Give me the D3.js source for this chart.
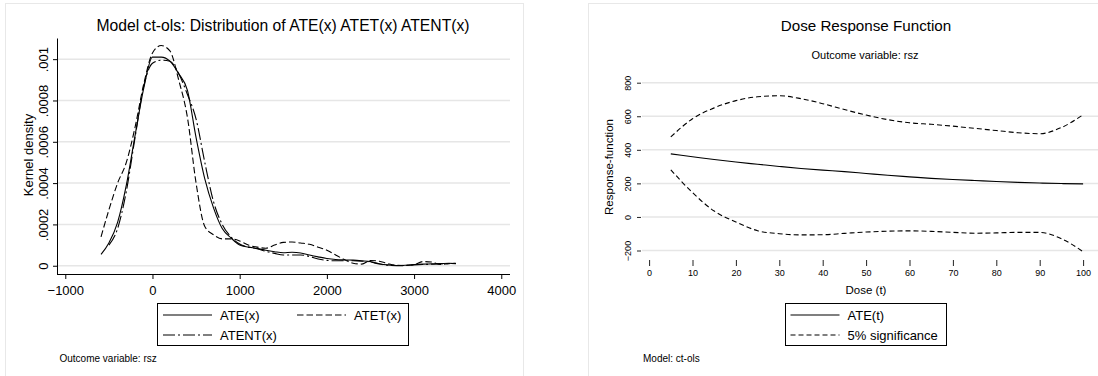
<!DOCTYPE html>
<html>
<head>
<meta charset="utf-8">
<script src="https://cdn.jsdelivr.net/npm/d3@7"></script>
<style>
  body { margin: 0; background: #fff; }
  svg text { font-family: "Liberation Sans", Arial, sans-serif; fill: #000; }
</style>
</head>
<body>
<svg id="chart" width="1098" height="376"></svg>
<script>
// Left panel: kernel densities
const kdX = [-590, -500, -400, -300, -200, -100, 0, 100, 200, 300, 400, 500, 600, 700, 800, 900, 1000,
  1100, 1200, 1300, 1400, 1500, 1600, 1700, 1800, 1900, 2000, 2100, 2200, 2300, 2400, 2500, 2600,
  2700, 2800, 2900, 3000, 3100, 3200, 3300, 3400, 3480];
const ateX = [0.000055, 0.00011, 0.00021, 0.00039, 0.00063, 0.00086, 0.00101, 0.00101, 0.00099, 0.00093,
  0.00085, 0.00062, 0.00042, 0.00028, 0.00018, 0.000135, 0.0001, 0.00009, 0.000084, 0.000075, 0.000068,
  0.000063, 0.000065, 0.000062, 0.000052, 0.000043, 0.000035, 0.00003, 0.000028, 0.000027, 0.000024,
  0.00002, 0.00001, 0.000004, 0.000001, 0.000002, 0.000006, 0.000008, 0.000009, 0.00001, 0.000012, 0.000011];
const atetX = [0.00014, 0.00027, 0.0004, 0.0005, 0.00067, 0.00088, 0.00103, 0.001066, 0.00104, 0.0009,
  0.00072, 0.0004, 0.00019, 0.00015, 0.00013, 0.00013, 0.00012, 0.0001, 0.00009, 0.000085, 0.0001,
  0.000113, 0.000115, 0.00011, 0.000104, 0.00009, 0.000075, 0.000052, 0.00003, 0.000012, 0.000008,
  0.000025, 0.000022, 0.00001, 0.000002, 0.000001, 0.000005, 0.00002, 0.000018, 0.000006, 0.00001, 0.000012];
const atentX = [null, 0.0001, 0.00018, 0.00036, 0.00062, 0.00087, 0.00098, 0.000995, 0.00099, 0.00093,
  0.00083, 0.00071, 0.0005, 0.00031, 0.0002, 0.00014, 0.000105, 0.00009, 0.000082, 0.00007, 0.00006,
  0.000052, 0.000052, 0.000052, 0.000045, 0.000033, 0.000026, 0.000024, 0.000024, 0.000024, 0.000022,
  0.000018, 0.000008, 0.000002, 0, 0.000001, 0.000004, 0.000006, 0.000007, 0.000009, 0.000011, 0.00001];
const kdXTicks = [-1000, 0, 1000, 2000, 3000, 4000];
const kdYTicks = [0, 0.0002, 0.0004, 0.0006, 0.0008, 0.001];
const kdYLabels = ["0", ".0002", ".0004", ".0006", ".0008", ".001"];

// Right panel: dose response
const dose = [5, 10, 15, 20, 25, 30, 35, 40, 45, 50, 55, 60, 65, 70, 75, 80, 85, 90, 95, 100];
const ateT = [376, 359, 342, 327, 314, 301, 289, 279, 270, 259, 248, 239, 230, 223, 217, 211, 206, 202, 199, 197];
const upper = [477, 585, 650, 693, 716, 722, 705, 675, 640, 607, 580, 561, 552, 541, 528, 515, 502, 496, 533, 609];
const lower = [281, 145, 35, -30, -82, -100, -107, -106, -98, -90, -85, -83, -86, -92, -97, -95, -92, -92, -130, -207];
const doseTicks = [0, 10, 20, 30, 40, 50, 60, 70, 80, 90, 100];
const respTicks = [-200, 0, 200, 400, 600, 800];

const svg = d3.select("#chart");
const gridColor = "#e6e6e6";
const frameColor = "#e8e8e8";

// ---------- left panel ----------
const L = svg.append("g");
L.append("rect").attr("x", 5.5).attr("y", 3.5).attr("width", 518).attr("height", 390)
  .attr("fill", "none").attr("stroke", frameColor);

const x1 = d3.scaleLinear().domain([-1095, 4100]).range([57, 510]);
const y1 = d3.scaleLinear().domain([-0.00004, 0.0011]).range([274, 38.5]);

L.selectAll("line.grid").data(kdYTicks).enter().append("line")
  .attr("x1", 58).attr("x2", 510)
  .attr("y1", d => y1(d)).attr("y2", d => y1(d))
  .attr("stroke", gridColor).attr("stroke-width", 1.5);

const xAxis1 = L.append("g").attr("transform", "translate(0,274)")
  .call(d3.axisBottom(x1).tickValues(kdXTicks).tickSize(5).tickPadding(7).tickFormat(d3.format("d")));
const yAxis1 = L.append("g").attr("transform", "translate(57,0)")
  .call(d3.axisLeft(y1).tickValues(kdYTicks).tickSize(4).tickFormat((d, i) => kdYLabels[i]));
[xAxis1, yAxis1].forEach(a => {
  a.select(".domain").attr("stroke", "#000");
  a.selectAll(".tick line").attr("stroke", "#000");
  a.selectAll("text").style("font-size", "13px").attr("font-family", null);
});
xAxis1.select(".domain").attr("d", "M57,0.5H510");
yAxis1.select(".domain").attr("d", "M0.5,38.5V274");
yAxis1.selectAll(".tick text")
  .attr("x", null).attr("dy", null)
  .attr("text-anchor", "middle")
  .attr("transform", "translate(-9,0) rotate(-90)");

const kdLine = data => d3.line()
  .defined((d, i) => data[i] !== null)
  .x((d, i) => x1(kdX[i]))
  .y((d, i) => y1(data[i]))
  .curve(d3.curveMonotoneX)(kdX);

const kdSeries = [
  { name: "ATE(x)", data: ateX, dash: null },
  { name: "ATET(x)", data: atetX, dash: "6.5,3" },
  { name: "ATENT(x)", data: atentX, dash: "12,3,2,3" }
];
L.selectAll("path.kd").data(kdSeries).enter().append("path")
  .attr("d", d => kdLine(d.data))
  .attr("fill", "none").attr("stroke", "#000").attr("stroke-width", 1.1)
  .attr("stroke-dasharray", d => d.dash);

L.append("text").attr("x", 283).attr("y", 31).attr("text-anchor", "middle")
  .style("font-size", "15.7px").text("Model ct-ols: Distribution of ATE(x) ATET(x) ATENT(x)");
L.append("text").attr("transform", "translate(33,155) rotate(-90)").attr("text-anchor", "middle")
  .style("font-size", "13px").text("Kernel density");

const leg1 = L.append("g");
leg1.append("rect").attr("x", 157.5).attr("y", 303.5).attr("width", 251).attr("height", 42)
  .attr("fill", "#fff").attr("stroke", "#000");
const leg1Pos = [[163, 315], [297, 315], [163, 335]];
kdSeries.forEach((s, i) => {
  const [lx, ly] = leg1Pos[i];
  leg1.append("line").attr("x1", lx).attr("x2", lx + 49).attr("y1", ly).attr("y2", ly)
    .attr("stroke", "#000").attr("stroke-width", 1.1).attr("stroke-dasharray", s.dash);
  leg1.append("text").attr("x", lx + 57).attr("y", ly + 4.5).style("font-size", "13px").text(s.name);
});
L.append("text").attr("x", 59.5).attr("y", 361.5).style("font-size", "10px").text("Outcome variable: rsz");

// ---------- right panel ----------
const R = svg.append("g");
R.append("rect").attr("x", 588.5).attr("y", 3.5).attr("width", 530).attr("height", 390)
  .attr("fill", "none").attr("stroke", frameColor);

const x2 = d3.scaleLinear().domain([0, 100]).range([649.1, 1083.1]);
const y2 = d3.scaleLinear().domain([-200, 800]).range([250.5, 82.7]);

R.selectAll("line.grid").data(respTicks).enter().append("line")
  .attr("x1", 642).attr("x2", 1098)
  .attr("y1", d => y2(d)).attr("y2", d => y2(d))
  .attr("stroke", gridColor).attr("stroke-width", 1.5);

const xAxis2 = R.append("g").attr("transform", "translate(0,260)")
  .call(d3.axisBottom(x2).tickValues(doseTicks).tickSize(6).tickPadding(4));
const yAxis2 = R.append("g").attr("transform", "translate(641,0)")
  .call(d3.axisLeft(y2).tickValues(respTicks).tickSize(4).tickPadding(4));
[xAxis2, yAxis2].forEach(a => {
  a.select(".domain").remove();
  a.selectAll(".tick line").attr("stroke", "#222");
  a.selectAll("text").style("font-size", "9px").attr("font-family", null);
});
yAxis2.selectAll(".tick text")
  .attr("x", null).attr("dy", null)
  .attr("text-anchor", "middle")
  .attr("transform", "translate(-10,0) rotate(-90)");

const doseLine = data => d3.line()
  .x((d, i) => x2(dose[i]))
  .y((d, i) => y2(data[i]))
  .curve(d3.curveMonotoneX)(dose);

const drSeries = [
  { name: "ATE(t)", data: ateT, dash: null, legend: true },
  { name: "5% significance", data: upper, dash: "5,3", legend: true },
  { name: "5% significance", data: lower, dash: "5,3", legend: false }
];
R.selectAll("path.dr").data(drSeries).enter().append("path")
  .attr("d", d => doseLine(d.data))
  .attr("fill", "none").attr("stroke", "#000").attr("stroke-width", 1.1)
  .attr("stroke-dasharray", d => d.dash);

R.append("text").attr("x", 866).attr("y", 31).attr("text-anchor", "middle")
  .style("font-size", "15.2px").text("Dose Response Function");
R.append("text").attr("x", 865).attr("y", 59).attr("text-anchor", "middle")
  .style("font-size", "11px").text("Outcome variable: rsz");
R.append("text").attr("x", 866).attr("y", 294).attr("text-anchor", "middle")
  .style("font-size", "11.5px").text("Dose (t)");
R.append("text").attr("transform", "translate(613,167) rotate(-90)").attr("text-anchor", "middle")
  .style("font-size", "11.5px").text("Response-function");

const leg2 = R.append("g");
leg2.append("rect").attr("x", 785.5).attr("y", 303.5).attr("width", 161).attr("height", 42)
  .attr("fill", "#fff").attr("stroke", "#000");
drSeries.filter(s => s.legend).forEach((s, i) => {
  const ly = 315 + i * 20;
  leg2.append("line").attr("x1", 790.5).attr("x2", 839.5).attr("y1", ly).attr("y2", ly)
    .attr("stroke", "#000").attr("stroke-width", 1.1).attr("stroke-dasharray", s.dash);
  leg2.append("text").attr("x", 847.5).attr("y", ly + 4.5).style("font-size", "13px").text(s.name);
});
R.append("text").attr("x", 643).attr("y", 361.5).style("font-size", "10px").text("Model: ct-ols");
</script>
</body>
</html>
